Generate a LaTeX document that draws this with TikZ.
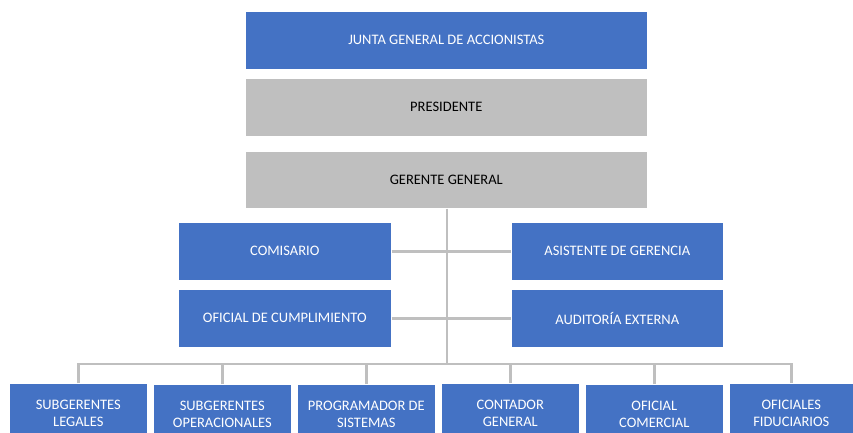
\documentclass[tikz,border=0pt]{standalone}
\usepackage{fontspec}
\setmainfont{Carlito}
\begin{document}
\begin{tikzpicture}[x=1pt,y=-1pt,
  box/.style={rectangle, anchor=north west, inner sep=0pt, draw=white, line width=0.6pt,
    font=\fontsize{14.5}{17}\selectfont, align=center},
  bluebox/.style={box, fill=blue1, text=white},
  graybox/.style={box, fill=gray1, text=black},
  conn/.style={draw=line1, line width=2.8pt}]
\definecolor{blue1}{HTML}{4472C4}
\definecolor{gray1}{HTML}{BFBFBF}
\definecolor{line1}{HTML}{BFBFBF}
\useasboundingbox (0,0) rectangle (853,433);
\clip (0,0) rectangle (853,433);
% connectors first (behind boxes)
\coordinate (bus) at (447,364);
\coordinate (gbot) at (447,208);
\coordinate (r1) at (447,251);
\coordinate (r2) at (447,318);
% top
\node[bluebox, minimum width=402pt, minimum height=58pt] (junta) at (245,11) {JUNTA GENERAL DE ACCIONISTAS};
\node[graybox, minimum width=402pt, minimum height=58pt] (pres) at (245,78) {PRESIDENTE};
\node[graybox, minimum width=402pt, minimum height=57pt] (ger) at (245,151) {GERENTE GENERAL};
% middle
\node[bluebox, minimum width=213pt, minimum height=58pt] (com) at (178,222) {COMISARIO};
\node[bluebox, minimum width=212pt, minimum height=58pt] (asi) at (511,222) {ASISTENTE DE GERENCIA};
\node[bluebox, minimum width=213pt, minimum height=58pt] (ofc) at (178,289) {OFICIAL DE CUMPLIMIENTO};
\node[bluebox, minimum width=212pt, minimum height=58pt] (aud) at (511,289) {AUDITORÍA EXTERNA};
% bottom
\node[bluebox, minimum width=138pt, minimum height=60pt] (sl) at (9,383) {SUBGERENTES\\LEGALES};
\node[bluebox, minimum width=138pt, minimum height=60pt] (so) at (153,384) {SUBGERENTES\\OPERACIONALES};
\node[bluebox, minimum width=138pt, minimum height=60pt] (ps) at (297,384) {PROGRAMADOR DE\\SISTEMAS};
\node[bluebox, minimum width=138pt, minimum height=60pt] (cg) at (441,383) {CONTADOR\\GENERAL};
\node[bluebox, minimum width=138pt, minimum height=60pt] (oc) at (585,384) {OFICIAL\\COMERCIAL};
\node[bluebox, minimum width=124pt, minimum height=60pt] (of) at (729,383) {OFICIALES\\FIDUCIARIOS};
% connectors
\draw[conn] (ger.south -| bus) -- (bus);
\draw[conn] (com.east) -- (asi.west);
\draw[conn] (ofc.east) -- (aud.west);
\draw[conn] (sl.north) -- (sl.north |- bus) -- (of.north |- bus) -- (of.north);
\draw[conn] (so.north) -- (so.north |- bus);
\draw[conn] (ps.north) -- (ps.north |- bus);
\draw[conn] (cg.north) -- (cg.north |- bus);
\draw[conn] (oc.north) -- (oc.north |- bus);
\end{tikzpicture}
\end{document}
